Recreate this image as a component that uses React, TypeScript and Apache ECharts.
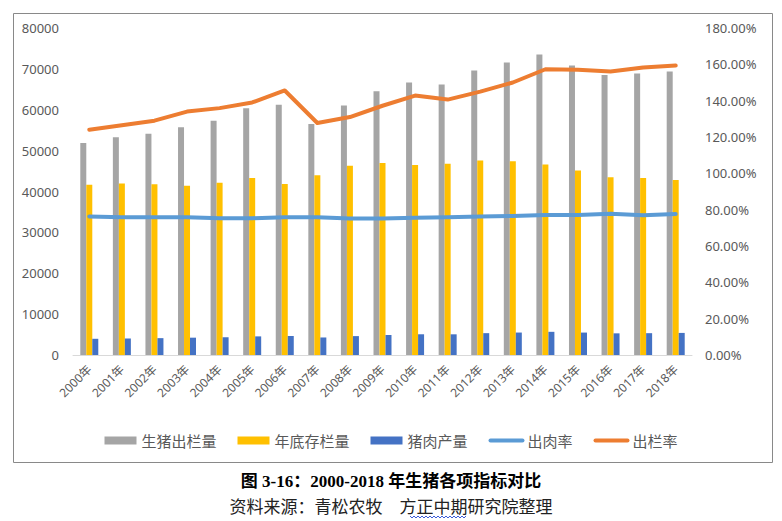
import React, { useEffect, useRef } from "react";
import * as echarts from "echarts";

const years = ["2000年", "2001年", "2002年", "2003年", "2004年", "2005年", "2006年", "2007年", "2008年", "2009年", "2010年", "2011年", "2012年", "2013年", "2014年", "2015年", "2016年", "2017年", "2018年"];
const slaughter = [51862, 53281, 54144, 55702, 57279, 60367, 61207, 56508, 61017, 64539, 66686, 66170, 69628, 71557, 73510, 70825, 68502, 68861, 69382];
const stock = [41633, 41950, 41776, 41382, 42123, 43319, 41850, 43989, 46291, 46996, 46460, 46767, 47592, 47411, 46583, 45113, 43504, 43325, 42817];
const pork = [3966, 4052, 4123, 4239, 4341, 4555, 4650, 4288, 4621, 4891, 5071, 5060, 5343, 5493, 5671, 5487, 5299, 5340, 5404];
const meatRate = [76.3, 75.8, 75.8, 75.8, 75.3, 75.3, 75.8, 75.8, 75.1, 75.1, 75.6, 75.8, 76.3, 76.5, 77.1, 77.1, 77.8, 76.9, 77.6];
const outRate = [124.0, 126.5, 129.0, 134.0, 135.9, 139.0, 145.6, 127.7, 131.0, 137.2, 142.8, 140.6, 145.0, 150.0, 157.3, 157.0, 156.0, 158.2, 159.3];

const FONT = '"Noto Sans", "Noto Sans CJK SC", sans-serif';
const LABEL = "#595959";

export default function App() {
  const ref = useRef<HTMLDivElement>(null);
  useEffect(() => {
    if (!ref.current) return;
    const chart = echarts.init(ref.current, null, { renderer: "svg" });
    chart.setOption({
      animation: false,
      backgroundColor: "#ffffff",
      textStyle: { fontFamily: FONT },
      grid: { left: 73, right: 90, top: 28, bottom: 166, containLabel: false },
      legend: {
        left: "center",
        top: 428,
        itemWidth: 32,
        itemHeight: 8,
        itemGap: 21,
        textStyle: { color: LABEL, fontSize: 15, fontFamily: FONT },
        lineStyle: { width: 4, cap: "round" },
        data: [
          { name: "生猪出栏量", icon: "rect" },
          { name: "年底存栏量", icon: "rect" },
          { name: "猪肉产量", icon: "rect" },
          { name: "出肉率", itemStyle: { opacity: 0 } },
          { name: "出栏率", itemStyle: { opacity: 0 } },
        ],
      },
      xAxis: {
        type: "category",
        data: years,
        axisLine: { lineStyle: { color: "#d9d9d9", width: 1 } },
        axisTick: { show: false },
        axisLabel: { rotate: 45, color: LABEL, fontSize: 12, margin: 12, interval: 0, fontFamily: FONT },
      },
      yAxis: [
        {
          type: "value",
          min: 0,
          max: 80000,
          interval: 10000,
          splitLine: { show: false },
          axisLine: { show: false },
          axisTick: { show: false },
          axisLabel: { color: LABEL, fontSize: 13, margin: 14, fontFamily: FONT, formatter: (v: number) => String(v) },
        },
        {
          type: "value",
          min: 0,
          max: 180,
          interval: 20,
          splitLine: { show: false },
          axisLine: { show: false },
          axisTick: { show: false },
          axisLabel: { color: LABEL, fontSize: 13, margin: 13, fontFamily: FONT, formatter: (v: number) => v.toFixed(2) + "%" },
        },
      ],
      series: [
        { name: "生猪出栏量", type: "bar", data: slaughter, barWidth: 6, barGap: "0%", itemStyle: { color: "#A5A5A5" } },
        { name: "年底存栏量", type: "bar", data: stock, barWidth: 6, barGap: "0%", itemStyle: { color: "#FFC000" } },
        { name: "猪肉产量", type: "bar", data: pork, barWidth: 6, barGap: "0%", itemStyle: { color: "#4472C4" } },
        {
          name: "出肉率", type: "line", yAxisIndex: 1, data: meatRate, symbol: "none",
          lineStyle: { color: "#5B9BD5", width: 4, cap: "round", join: "round" }, itemStyle: { color: "#5B9BD5" }, z: 5,
        },
        {
          name: "出栏率", type: "line", yAxisIndex: 1, data: outRate, symbol: "none",
          lineStyle: { color: "#ED7D31", width: 4, cap: "round", join: "round" }, itemStyle: { color: "#ED7D31" }, z: 5,
        },
      ],
      graphic: [
        {
          type: "rect", left: 11, top: 11, silent: true, z: -1,
          shape: { width: 759, height: 449 },
          style: { fill: "none", stroke: "#898989", lineWidth: 1 },
        },
        {
          type: "text", left: "center", top: 473,
          style: { text: "图 3-16：2000-2018 年生猪各项指标对比", fontSize: 17, fontWeight: "bold", fill: "#000000", fontFamily: '"Liberation Serif", "Noto Sans CJK SC", serif' },
        },
        {
          type: "text", left: "center", top: 497,
          style: { text: "资料来源：青松农牧　方正中期研究院整理", fontSize: 17, fill: "#222222", fontFamily: '"Noto Sans CJK SC", sans-serif' },
        },
        {
          type: "polyline", silent: true,
          shape: { points: [[410, 516], [412, 518], [414, 516], [416, 518], [418, 516], [420, 518], [422, 516], [424, 518], [426, 516], [428, 518], [430, 516], [432, 518], [434, 516], [436, 518], [438, 516], [440, 518], [442, 516], [444, 518], [446, 516], [448, 518], [450, 516], [452, 518], [454, 516], [456, 518], [458, 516], [460, 518], [462, 516], [464, 518], [466, 516]] },
          style: { stroke: "#3a5bd9", lineWidth: 1, fill: "none" },
        },
      ],
    });
    return () => chart.dispose();
  }, []);
  return <div ref={ref} style={{ position: "fixed", left: 0, top: 0, width: 782, height: 521 }} />;
}
